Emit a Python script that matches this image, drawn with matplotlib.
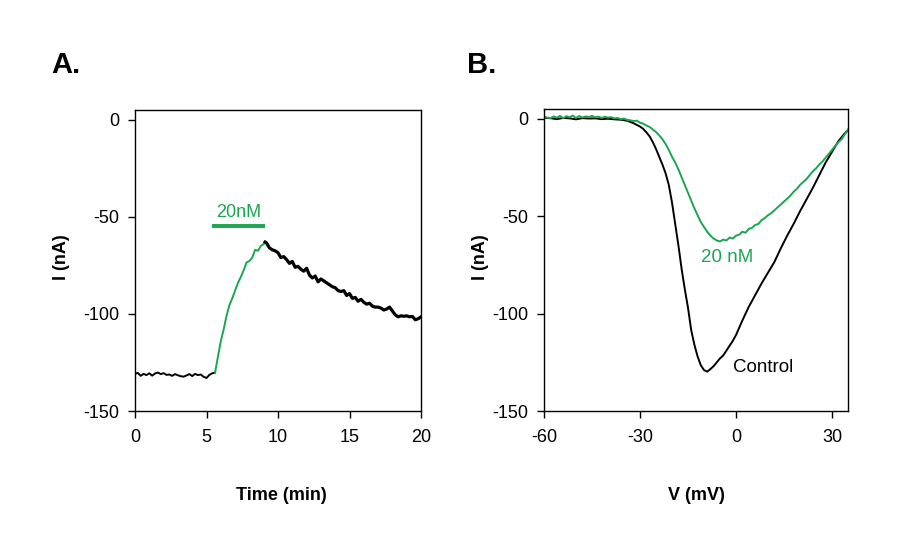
import matplotlib
matplotlib.use("Agg")
import matplotlib.pyplot as plt

plt.rcParams['font.family'] = ['Liberation Sans', 'DejaVu Sans']

GREEN = '#1aa64f'

# ---- Panel A data: current vs time ----
time_base = [0.0, 0.2, 0.4, 0.6, 0.8, 1.0, 1.2, 1.4, 1.6, 1.8, 2.0, 2.2, 2.4, 2.6,
             2.8, 3.0, 3.2, 3.4, 3.6, 3.8, 4.0, 4.2, 4.4, 4.6, 4.8, 5.0, 5.2, 5.4, 5.6]
I_base = [-130.8, -130.4, -131.9, -130.9, -131.5, -130.6, -131.8, -130.7, -130.2, -131.0,
          -130.5, -131.4, -131.2, -131.9, -131.0, -131.6, -132.1, -132.3, -131.7, -131.0,
          -132.0, -130.9, -131.5, -131.2, -132.4, -133.0, -131.4, -130.6, -130.2]

time_drug = [5.6, 5.8, 6.0, 6.2, 6.4, 6.6, 6.8, 7.0, 7.2, 7.4, 7.6, 7.8, 8.0, 8.2,
             8.4, 8.6, 8.8, 9.0, 9.1]
I_drug = [-130.2, -122.0, -114.0, -108.0, -101.0, -95.5, -92.0, -88.0, -84.0, -81.0,
          -77.5, -73.5, -72.8, -71.0, -67.0, -67.5, -65.0, -64.0, -63.0]

time_wash = [9.1, 9.2, 9.4, 9.6, 9.8, 10.0, 10.2, 10.4, 10.6, 10.8, 11.0, 11.2, 11.4,
             11.6, 11.8, 12.0, 12.2, 12.4, 12.6, 12.8, 13.0, 13.2, 13.4, 13.6, 13.8,
             14.0, 14.2, 14.4, 14.6, 14.8, 15.0, 15.2, 15.4, 15.6, 15.8, 16.0, 16.2,
             16.4, 16.6, 16.8, 17.0, 17.2, 17.4, 17.6, 17.8, 18.0, 18.2, 18.4, 18.6,
             18.8, 19.0, 19.2, 19.4, 19.6, 19.8, 20.0]
I_wash = [-63.0, -63.5, -66.0, -67.0, -67.5, -68.5, -71.0, -70.5, -72.0, -74.0, -73.0,
          -76.0, -75.5, -77.0, -78.0, -76.5, -80.0, -81.5, -80.5, -83.5, -82.0, -83.0,
          -84.0, -85.0, -86.0, -86.5, -88.0, -88.5, -88.0, -90.5, -89.5, -92.0, -91.5,
          -93.5, -92.5, -94.0, -95.0, -94.5, -96.0, -96.5, -96.5, -97.0, -98.0, -97.5,
          -96.5, -98.5, -100.5, -101.5, -101.0, -101.2, -101.0, -101.5, -101.3, -103.0,
          -102.5, -101.5]

drug_bar = [5.4, 9.1]
drug_bar_level = -54.5

# ---- Panel B data: I-V curves ----
V_ctrl = [-60, -58, -56, -54, -52, -50, -48, -46, -44, -42, -40, -38, -36, -34, -32,
          -30, -29, -28, -27, -26, -25, -24, -23, -22, -21, -20, -19, -18, -17, -16,
          -15, -14, -13, -12, -11, -10, -9, -8, -7, -6, -5, -4, -3, -2, -1, 0,
          2, 4, 6, 8, 10, 12, 14, 16, 18, 20, 22, 24, 26, 28, 30, 32, 34, 35]
I_ctrl = [0.5, 0.3, -0.2, 0.4, 0.2, -0.3, 0.3, 0.1, 0.2, -0.2, 0.0, -0.3, -0.5, -1.0,
          -2.3, -4.0, -5.2, -7.0, -9.0, -12.0, -15.5, -19.5, -23.5, -28.0, -34.0, -43.0,
          -54.0, -65.0, -77.0, -87.5, -97.0, -108.5, -116.0, -122.0, -126.5, -129.0,
          -129.8, -128.5, -127.0, -125.0, -123.0, -121.5, -119.0, -116.5, -114.0, -111.0,
          -103.5, -96.5, -90.5, -84.5, -79.0, -73.5, -66.5, -60.0, -54.0, -47.5, -41.5,
          -35.5, -29.0, -22.5, -17.0, -11.5, -7.5, -6.0]

V_drug = [-60, -58, -57, -56, -55, -54, -53, -52, -51, -50, -49, -48, -47, -46, -45,
          -44, -43, -42, -41, -40, -39, -38, -37, -36, -35, -34, -33, -32, -31, -30,
          -29, -28, -27, -26, -25, -24, -23, -22, -21, -20, -19, -18, -17, -16, -15,
          -14, -13, -12, -11, -10, -9, -8, -7, -6, -5, -4, -3, -2, -1, 0, 1, 2, 3, 4,
          5, 6, 7, 8, 9, 10, 11, 12, 13, 14, 15, 16, 17, 18, 19, 20, 21, 22, 23, 24,
          25, 26, 27, 28, 29, 30, 31, 32, 33, 34, 35]
I_drug_iv = [1.0, 0.2, 1.2, 0.5, 1.5, 0.3, 1.3, 0.8, 1.6, 0.4, 1.4, 0.6, 1.2, 0.9, 1.5,
             0.7, 1.1, 0.4, 1.0, 0.6, 0.8, 0.2, 0.4, -0.2, 0.1, -0.6, -0.8, -1.2, -1.0,
             -2.0, -2.5, -3.5, -4.2, -5.5, -6.8, -8.5, -10.5, -13.0, -16.0, -19.5, -22.5,
             -26.0, -30.0, -34.0, -38.0, -42.0, -46.0, -49.5, -53.0, -55.5, -58.0, -60.0,
             -61.5, -62.5, -63.0, -62.0, -62.5, -61.0, -61.5, -60.0, -59.5, -58.0, -58.5,
             -56.5, -56.0, -54.5, -54.0, -52.0, -51.0, -49.5, -48.5, -47.0, -45.5, -44.0,
             -42.5, -41.0, -39.5, -37.5, -36.0, -34.0, -32.5, -31.0, -29.0, -27.0, -25.5,
             -23.5, -22.0, -20.0, -18.0, -16.0, -14.0, -12.0, -10.5, -8.0, -5.5]

xticks_A = [0, 5, 10, 15, 20]
xticks_B = [-60, -30, 0, 30]
yticks = [0, -50, -100, -150]

fig = plt.figure(figsize=(8.98, 5.55), dpi=100)
W, H = 898.0, 555.0

def ax_rect(l, t, r, b):
    return [l / W, 1 - b / H, (r - l) / W, (b - t) / H]

axA = fig.add_axes(ax_rect(135, 110, 421, 411))
axB = fig.add_axes(ax_rect(544, 109, 848, 411))

for ax in (axA, axB):
    for s in ax.spines.values():
        s.set_linewidth(1.0)
        s.set_color('black')
    ax.tick_params(direction='out', length=5, width=1, labelsize=13,
                   top=False, right=False)
    ax.tick_params(axis='x', pad=8)
    ax.tick_params(axis='y', pad=6)
    ax.set_yticks(yticks)
    ax.set_yticklabels([str(v) for v in yticks])
    ax.set_ylim(-150, 5)

# Panel A
axA.plot(time_base, I_base, color='black', lw=1.4)
axA.plot(time_drug, I_drug, color=GREEN, lw=1.4)
axA.plot(time_wash, I_wash, color='black', lw=2.3)
axA.plot(drug_bar, [drug_bar_level, drug_bar_level], color=GREEN, lw=2.8,
         solid_capstyle='butt')
axA.text(sum(drug_bar) / 2, drug_bar_level + 2.3, '20nM', color=GREEN,
         fontsize=13, ha='center', va='bottom')
axA.set_xlim(0, 20)
axA.set_xticks(xticks_A)
axA.set_xticklabels([str(v) for v in xticks_A])

# Panel B
axB.plot(V_ctrl, I_ctrl, color='black', lw=1.4)
axB.plot(V_drug, I_drug_iv, color=GREEN, lw=1.4)
axB.text(-2.8, -71, '20 nM', color=GREEN, fontsize=13.5, ha='center', va='center')
axB.text(8.5, -127.5, 'Control', color='black', fontsize=13.5, ha='center', va='center')
axB.set_xlim(-60, 35)
axB.set_xticks(xticks_B)
axB.set_xticklabels([str(v) for v in xticks_B])

# Labels
fig.text(61 / W, 1 - 257 / H, 'I (nA)', rotation=90, fontsize=13, fontweight='bold',
         ha='center', va='center')
fig.text(480 / W, 1 - 257 / H, 'I (nA)', rotation=90, fontsize=13, fontweight='bold',
         ha='center', va='center')
fig.text(281 / W, 1 - 495 / H, 'Time (min)', fontsize=13, fontweight='bold',
         ha='center', va='center')
fig.text(696 / W, 1 - 495 / H, 'V (mV)', fontsize=13, fontweight='bold',
         ha='center', va='center')
fig.text(51 / W, 1 - 73 / H, 'A.', fontsize=21, fontweight='bold', ha='left',
         va='baseline')
fig.text(467 / W, 1 - 73 / H, 'B.', fontsize=21, fontweight='bold', ha='left',
         va='baseline')

fig.savefig('out.png', dpi=100, facecolor='white')
